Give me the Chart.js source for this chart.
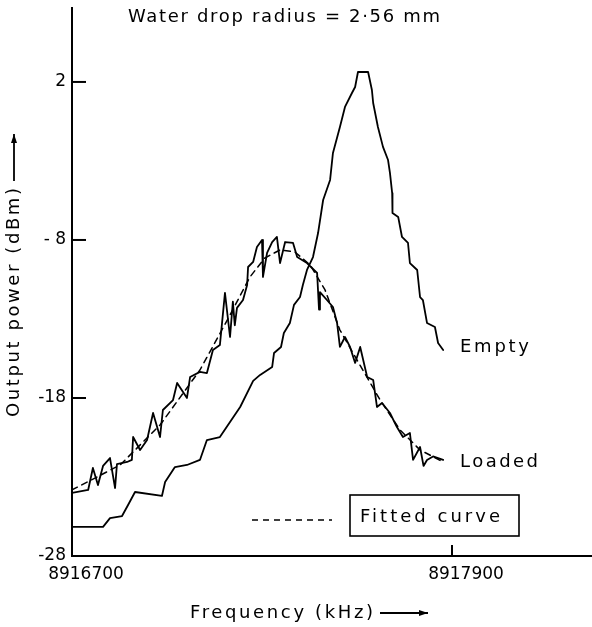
<!DOCTYPE html>
<html>
<head>
<meta charset="utf-8">
<title>Water drop resonance</title>
<script src="https://cdn.jsdelivr.net/npm/chart.js@4.4.1/dist/chart.umd.min.js"></script>
<style>
  html, body { margin: 0; padding: 0; background: #fff; }
  #wrap { width: 592px; height: 627px; }
</style>
</head>
<body>
<div id="wrap"><canvas id="chart" width="592" height="627"></canvas></div>
<script>
// ===== DATA =====
const xMin = 8916700;
const xMax = 8918342;
const yMin = -28;
const yMax = 6.68;

const xTickValues = [8916700, 8917900];
const xTickLabels = ['8916700', '8917900'];
const yTickValues = [-28, -18, -8, 2];
const yTickLabels = ['-28', '-18', '- 8', '2'];

// Empty cavity
const emptyFreq = [
  8916700, 8916798, 8916820, 8916858, 8916877, 8916899, 8916984, 8916994, 8917025, 8917063,
  8917104, 8917126, 8917167, 8917199, 8917231, 8917272, 8917294, 8917332, 8917338, 8917360,
  8917369, 8917388, 8917401, 8917420, 8917429, 8917442, 8917461, 8917477, 8917493, 8917515,
  8917524, 8917546, 8917562, 8917584, 8917594, 8917603, 8917635, 8917647, 8917651, 8917666,
  8917682, 8917698, 8917704, 8917711, 8917712, 8917730, 8917742, 8917761, 8917767, 8917790,
  8917799, 8917808, 8917821, 8917846, 8917856, 8917872
];
const emptyPower = [
  -26.16, -26.16, -25.6, -25.47, -24.77, -23.95, -24.2, -23.32, -22.37, -22.24,
  -21.92, -20.66, -20.47, -19.52, -18.57, -16.92, -16.54, -16.04, -15.15, -14.77,
  -13.89, -13.25, -12.11, -11.61, -10.85, -9.9, -9.08, -7.56, -5.47, -4.2,
  -2.49, -0.85, 0.42, 1.3, 1.68, 2.63, 2.63, 1.49, 0.67, -0.85,
  -2.11, -2.94, -3.76, -5.03, -6.29, -6.54, -7.81, -8.19, -9.46, -9.9,
  -11.61, -11.8, -13.25, -13.51, -14.52, -14.96
];

// Loaded cavity (water drop)
const loadedFreq = [
  8916700, 8916751, 8916766, 8916782, 8916798, 8916820, 8916836, 8916842, 8916874, 8916889,
  8916893, 8916915, 8916937, 8916956, 8916978, 8916987, 8917019, 8917032, 8917063, 8917073,
  8917104, 8917126, 8917145, 8917167, 8917183, 8917199, 8917208, 8917214, 8917221, 8917240,
  8917253, 8917256, 8917272, 8917284, 8917300, 8917303, 8917316, 8917332, 8917347, 8917357,
  8917373, 8917398, 8917411, 8917442, 8917474, 8917480, 8917483, 8917505, 8917524, 8917537,
  8917546, 8917562, 8917578, 8917594, 8917610, 8917632, 8917651, 8917663, 8917679, 8917704,
  8917726, 8917745, 8917767, 8917777, 8917799, 8917810, 8917821, 8917840, 8917872
];
const loadedPower = [
  -24.01, -23.82, -22.43, -23.51, -22.3, -21.8, -23.7, -22.18, -22.05, -21.92,
  -20.47, -21.29, -20.66, -18.95, -20.47, -18.76, -18.13, -17.05, -18.0, -16.67,
  -16.35, -16.42, -14.96, -14.65, -11.35, -14.14, -11.9, -13.4, -12.3, -11.8,
  -10.85, -9.71, -9.39, -8.44, -8.0, -10.34, -8.82, -8.13, -7.81, -9.46,
  -8.13, -8.19, -9.08, -9.46, -10.09, -12.4, -11.3, -11.8, -12.24, -13.25,
  -14.77, -14.14, -14.77, -15.78, -14.77, -16.67, -16.86, -18.57, -18.32, -18.95,
  -19.84, -20.47, -20.22, -21.92, -21.1, -22.3, -21.92, -21.7, -21.92
];

// Fitted curve
const fitFreq = [
  8916700, 8916852, 8916978, 8917104, 8917199, 8917262, 8917309, 8917357, 8917404, 8917452,
  8917499, 8917546, 8917609, 8917673, 8917736, 8917799, 8917872
];
const fitPower = [
  -23.82, -22.24, -19.71, -16.23, -12.75, -10.34, -9.14, -8.63, -8.76, -9.58,
  -11.16, -13.7, -15.91, -18.13, -20.03, -21.29, -22.05
];

// =====================================

const FONT = '"DejaVu Sans", sans-serif';

function toPoints(xs, ys) {
  return xs.map((v, i) => ({ x: v, y: ys[i] }));
}

// draw text stretched (letter spaced) to a given width, left aligned
function spacedText(ctx, text, x, y, width, size) {
  ctx.font = size + 'px ' + FONT;
  ctx.letterSpacing = '0px';
  const w = ctx.measureText(text).width;
  const ls = Math.max(0, (width - w) / (text.length - 1));
  ctx.letterSpacing = ls + 'px';
  ctx.textAlign = 'left';
  ctx.textBaseline = 'middle';
  ctx.fillText(text, x, y);
  ctx.letterSpacing = '0px';
}

function arrow(ctx, x1, y1, x2, y2) {
  ctx.lineWidth = 1.8;
  ctx.beginPath();
  ctx.moveTo(x1, y1);
  ctx.lineTo(x2, y2);
  ctx.stroke();
  const a = Math.atan2(y2 - y1, x2 - x1);
  ctx.beginPath();
  ctx.moveTo(x2, y2);
  ctx.lineTo(x2 - 9 * Math.cos(a) + 3 * Math.sin(a), y2 - 9 * Math.sin(a) - 3 * Math.cos(a));
  ctx.lineTo(x2 - 9 * Math.cos(a) - 3 * Math.sin(a), y2 - 9 * Math.sin(a) + 3 * Math.cos(a));
  ctx.closePath();
  ctx.fill();
}

const decorations = {
  id: 'decorations',
  afterDraw(chart) {
    const ctx = chart.ctx;
    const xs = chart.scales.x;
    const ys = chart.scales.y;
    ctx.save();
    ctx.fillStyle = '#000';
    ctx.strokeStyle = '#000';

    // inward tick marks
    ctx.lineWidth = 2;
    yTickValues.forEach(v => {
      if (v === yMin) return;
      const py = ys.getPixelForValue(v);
      ctx.beginPath();
      ctx.moveTo(xs.left, py);
      ctx.lineTo(xs.left + 14, py);
      ctx.stroke();
    });
    xTickValues.forEach(v => {
      if (v === xMin) return;
      const px = xs.getPixelForValue(v);
      ctx.beginPath();
      ctx.moveTo(px, ys.bottom);
      ctx.lineTo(px, ys.bottom - 11);
      ctx.stroke();
    });

    // title
    spacedText(ctx, 'Water drop radius = 2\u00b756 mm', 128, 17, 312, 18);

    // axis titles
    spacedText(ctx, 'Frequency (kHz)', 190, 613, 183, 18);
    arrow(ctx, 380, 613, 428, 613);

    ctx.save();
    ctx.translate(14, 417);
    ctx.rotate(-Math.PI / 2);
    spacedText(ctx, 'Output power (dBm)', 0, 0, 229, 18);
    arrow(ctx, 236, 0, 283, 0);
    ctx.restore();

    // curve labels
    spacedText(ctx, 'Empty', 460, 347, 69, 18);
    spacedText(ctx, 'Loaded', 460, 462, 78, 18);

    // fitted curve key
    ctx.lineWidth = 1.5;
    ctx.setLineDash([6, 5]);
    ctx.beginPath();
    ctx.moveTo(252, 520);
    ctx.lineTo(332, 520);
    ctx.stroke();
    ctx.setLineDash([]);
    ctx.lineWidth = 1.6;
    ctx.strokeRect(350, 495, 169, 41);
    spacedText(ctx, 'Fitted curve', 360, 517, 140, 18);

    ctx.restore();
  }
};

const lineStyle = {
  borderColor: '#000',
  pointRadius: 0,
  tension: 0,
  fill: false,
  borderJoinStyle: 'round',
  borderCapStyle: 'round'
};

new Chart(document.getElementById('chart'), {
  type: 'line',
  data: {
    datasets: [
      Object.assign({ label: 'Fitted curve', data: toPoints(fitFreq, fitPower), borderWidth: 1.5, borderDash: [6, 5] }, lineStyle),
      Object.assign({ label: 'Empty', data: toPoints(emptyFreq, emptyPower), borderWidth: 1.8 }, lineStyle),
      Object.assign({ label: 'Loaded', data: toPoints(loadedFreq, loadedPower), borderWidth: 1.8 }, lineStyle)
    ]
  },
  options: {
    responsive: false,
    animation: false,
    events: [],
    layout: { padding: { top: 8, right: 0, left: 0, bottom: 0 } },
    plugins: {
      legend: { display: false },
      tooltip: { enabled: false },
      title: { display: false }
    },
    scales: {
      x: {
        type: 'linear',
        min: xMin,
        max: xMax,
        afterBuildTicks: s => { s.ticks = xTickValues.map(v => ({ value: v })); },
        afterFit: s => { s.height = 71; s.paddingLeft = 0; s.paddingRight = 0; },
        ticks: {
          color: '#000',
          font: { family: FONT, size: 17 },
          padding: 8,
          labelOffset: 14,
          maxRotation: 0,
          autoSkip: false,
          callback: v => xTickLabels[xTickValues.indexOf(v)]
        },
        grid: { display: false, drawTicks: false },
        border: { display: true, color: '#000', width: 2 }
      },
      y: {
        type: 'linear',
        min: yMin,
        max: yMax,
        afterBuildTicks: s => { s.ticks = yTickValues.map(v => ({ value: v })); },
        afterFit: s => { s.width = 72; s.paddingTop = 0; s.paddingBottom = 0; },
        ticks: {
          color: '#000',
          font: { family: FONT, size: 17 },
          padding: 6,
          autoSkip: false,
          callback: v => yTickLabels[yTickValues.indexOf(v)]
        },
        grid: { display: false, drawTicks: false },
        border: { display: true, color: '#000', width: 2 }
      }
    }
  },
  plugins: [decorations]
});
</script>
</body>
</html>
